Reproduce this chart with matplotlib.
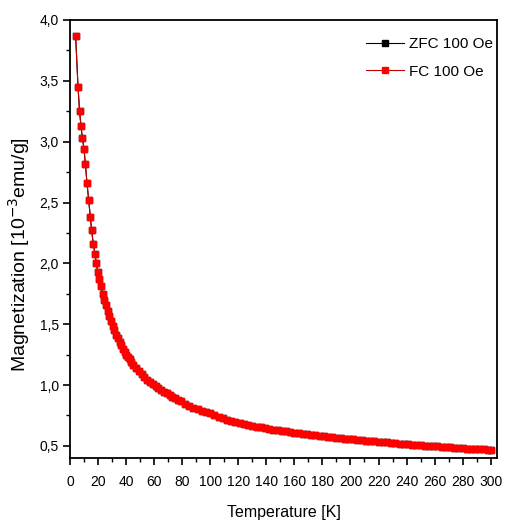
import matplotlib.pyplot as plt
from matplotlib.ticker import MultipleLocator, FuncFormatter

# Data (T in K, M in 10^-3 emu/g)
temperature = [
    4.0, 5.7, 6.8, 7.8, 8.8, 10.0, 10.9, 12.1, 13.3, 14.5,
    15.4, 16.6, 17.8, 18.7, 19.9, 20.9, 22.1, 23.2, 24.4, 25.7,
    26.9, 28.1, 29.3, 30.5, 31.7, 32.9, 34.1, 35.3, 36.5, 37.7,
    38.9, 40.1, 41.3, 42.5, 43.7, 44.9, 47, 49, 51, 53,
    55, 57, 59, 61, 63, 65, 67, 69, 71, 73,
    75, 77, 79, 82, 85, 88, 91, 94, 97, 100,
    103, 106, 109, 112, 115, 118, 121, 124, 127, 130,
    133, 136, 139, 142, 145, 148, 151, 154, 157, 160,
    163, 166, 169, 172, 175, 178, 181, 184, 187, 190,
    193, 196, 199, 202, 205, 208, 211, 214, 217, 220,
    223, 226, 229, 232, 235, 238, 241, 244, 247, 250,
    253, 256, 259, 262, 265, 268, 271, 274, 277, 280,
    283, 286, 289, 292, 295, 298, 300,
]
fc_magnetization = [
    3.87, 3.45, 3.25, 3.13, 3.03, 2.94, 2.82, 2.66, 2.52, 2.38,
    2.27, 2.16, 2.08, 2.00, 1.93, 1.87, 1.81, 1.75, 1.70, 1.655,
    1.61, 1.565, 1.525, 1.485, 1.45, 1.415, 1.385, 1.355, 1.325, 1.30,
    1.275, 1.25, 1.23, 1.21, 1.19, 1.168, 1.138, 1.112, 1.088, 1.066,
    1.045, 1.026, 1.008, 0.991, 0.975, 0.960, 0.945, 0.931, 0.917, 0.904,
    0.891, 0.879, 0.867, 0.846, 0.830, 0.815, 0.801, 0.788, 0.777, 0.766,
    0.752, 0.739, 0.727, 0.716, 0.706, 0.697, 0.688, 0.680, 0.672, 0.665,
    0.658, 0.652, 0.646, 0.640, 0.634, 0.629, 0.624, 0.619, 0.614, 0.609,
    0.604, 0.600, 0.595, 0.591, 0.587, 0.583, 0.579, 0.575, 0.571, 0.567,
    0.563, 0.560, 0.556, 0.553, 0.549, 0.546, 0.543, 0.540, 0.537, 0.534,
    0.531, 0.528, 0.525, 0.522, 0.519, 0.516, 0.513, 0.511, 0.508, 0.505,
    0.502, 0.500, 0.497, 0.495, 0.492, 0.490, 0.487, 0.485, 0.483, 0.480,
    0.478, 0.476, 0.474, 0.472, 0.470, 0.468, 0.466,
]
# ZFC curve lies completely under the FC curve in the picture
zfc_magnetization = list(fc_magnetization)

plt.rcParams["font.family"] = ["Liberation Sans", "DejaVu Sans"]

fig = plt.figure(figsize=(5.10, 5.29), dpi=100)
ax = fig.add_axes([0.1373, 0.1342, 0.8372, 0.828])

ax.plot(temperature, zfc_magnetization, color="black", lw=0.8, marker="s",
        ms=5, mec="black", mfc="black", label="ZFC 100 Oe")
ax.plot(temperature, fc_magnetization, color="#c00000", lw=0.8, marker="s",
        ms=5, mec="#ff0000", mfc="#ff0000", label="FC 100 Oe")

ax.set_xlim(0, 304.5)
ax.set_ylim(0.4, 4.0)
ax.xaxis.set_major_locator(MultipleLocator(20))
ax.xaxis.set_minor_locator(MultipleLocator(10))
ax.yaxis.set_major_locator(MultipleLocator(0.5))
ax.yaxis.set_minor_locator(MultipleLocator(0.25))
ax.yaxis.set_major_formatter(FuncFormatter(lambda v, p: f"{v:.1f}".replace(".", ",")))

ax.tick_params(which="major", direction="out", length=5, width=1.2, labelsize=10,
               top=False, right=False)
ax.tick_params(axis="x", which="major", pad=7)
ax.tick_params(axis="y", which="major", pad=3)
ax.tick_params(which="minor", direction="out", length=3, width=1.0, top=False, right=False)
for s in ax.spines.values():
    s.set_linewidth(1.3)
    s.set_color("black")

ax.set_xlabel("Temperature [K]", fontsize=11.5, labelpad=12)
ax.set_ylabel("Magnetization [10$^{-3}$emu/g]", fontsize=14)
ax.yaxis.set_label_coords(-0.09, 0.465)

ax.legend(loc="upper right", frameon=False, fontsize=11, handlelength=2.5,
          handletextpad=0.3, labelspacing=0.9, borderaxespad=0.0,
          bbox_to_anchor=(1.005, 0.975))

fig.savefig("out.png", dpi=100)
